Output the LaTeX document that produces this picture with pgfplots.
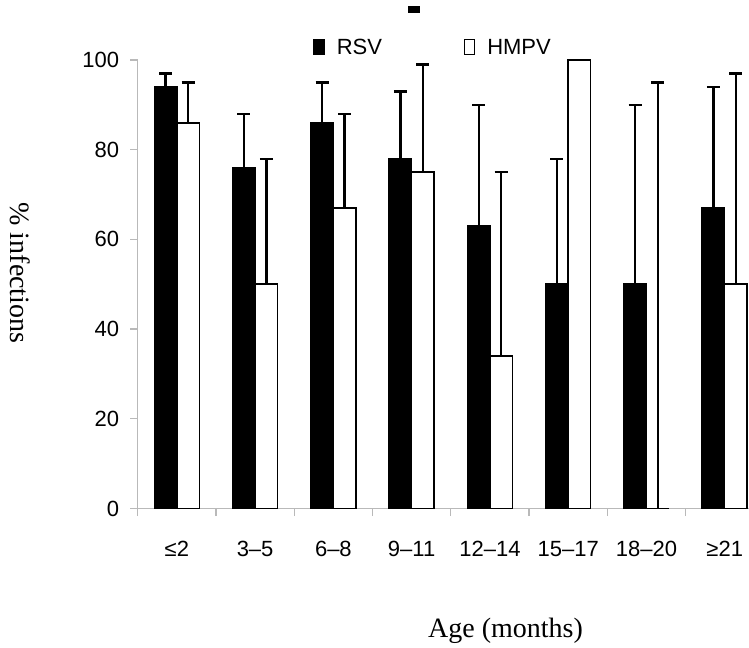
\documentclass[border=0pt]{standalone}
\usepackage{fontspec}
\setmainfont{Liberation Sans}
\newfontfamily\seriffam{Liberation Serif}
\usepackage{pgfplots}
\pgfplotsset{compat=1.18}
\usepackage{pgfplotstable}
\definecolor{axisgray}{RGB}{185,185,185}
\pgfplotstableread{
x y ey
0 94 3
1 76 12
2 86 9
3 78 15
4 63 27
5 50 28
6 50 40
7 67 27
}\rsv
\pgfplotstableread{
x y ey
0 86 9
1 50 28
2 67 21
3 75 24
4 34 41
5 100 0
6 0 95
7 50 47
}\hmpv
\newcommand\tfont{\fontsize{22bp}{26bp}\selectfont}
\newcommand\lfont{\seriffam\fontsize{28bp}{32bp}\selectfont}
\pgfplotsset{myleg/.style={legend image code/.code={\draw[##1,line width=1.5bp] (0bp,-7.5bp) rectangle (10bp,7.5bp);}}}
\begin{document}
\begin{tikzpicture}
\useasboundingbox (0,0) rectangle (749bp,648bp);
\begin{axis}[
  at={(137.7bp,139.5bp)}, anchor=south west,
  scale only axis, width=611.3bp, height=448.5bp,
  xmin=-0.5, xmax=7.31, ymin=0, ymax=100,
  clip=false,
  axis lines=left,
  axis line style={-, draw=axisgray, line width=1.3bp},
  ybar=0pt, bar width=22.5bp,
  xtick={0,...,7},
  xticklabels={≤2,3–5,6–8,9–11,12–14,15–17,18–20,≥21},
  minor xtick={-0.5,0.5,...,6.5},
  ytick={0,20,...,100},
  tick align=outside,
  major tick length=7.5bp, minor tick length=7.5bp,
  tick style={draw=axisgray, line width=1.3bp},
  every major x tick/.append style={draw=none},
  /pgf/number format/assume math mode=true,
  xticklabel style={font=\tfont, anchor=base, inner sep=0pt, yshift=-40.5bp},
  yticklabel style={font=\tfont, anchor=east, inner sep=0pt, xshift=-10.9bp},
  xlabel={Age (months)},
  xlabel style={at={(axis description cs:0.6017,-0.2887)}, anchor=base, font=\lfont, inner sep=0pt},
  ylabel={\% infections},
  ylabel style={at={(axis description cs:-0.1917,0.525)}, anchor=center, rotate=180, font=\lfont, inner sep=0pt},
  title={\rule{11.7bp}{6.7bp}},
  title style={at={(axis description cs:0.4523,1.0989)}, anchor=center, inner sep=0pt},
  legend style={at={(axis description cs:0.2873,1.0285)}, anchor=west, draw=none, fill=none,
    inner sep=0pt, outer sep=0pt, font=\tfont, legend columns=2,
    nodes={inner sep=0pt, text depth=0pt},
    /tikz/every odd column/.append style={column sep=12bp},
    /tikz/every even column/.append style={column sep=81.7bp}},
  legend cell align=left,
]
\addplot[fill=black, draw=black, line width=1.5bp, myleg,
  error bars/.cd, y dir=plus, y explicit,
  error bar style={line width=2.3bp, black},
  error mark options={rotate=90, line width=2.3bp, mark size=6.5bp, black}]
  table[x=x, y=y, y error=ey] {\rsv};
\addlegendentry{RSV}
\addplot[fill=white, draw=black, line width=1.5bp, myleg,
  error bars/.cd, y dir=plus, y explicit,
  error bar style={line width=2.3bp, black},
  error mark options={rotate=90, line width=2.3bp, mark size=6.5bp, black}]
  table[x=x, y=y, y error=ey] {\hmpv};
\addlegendentry{HMPV}
\end{axis}
\end{tikzpicture}
\end{document}
